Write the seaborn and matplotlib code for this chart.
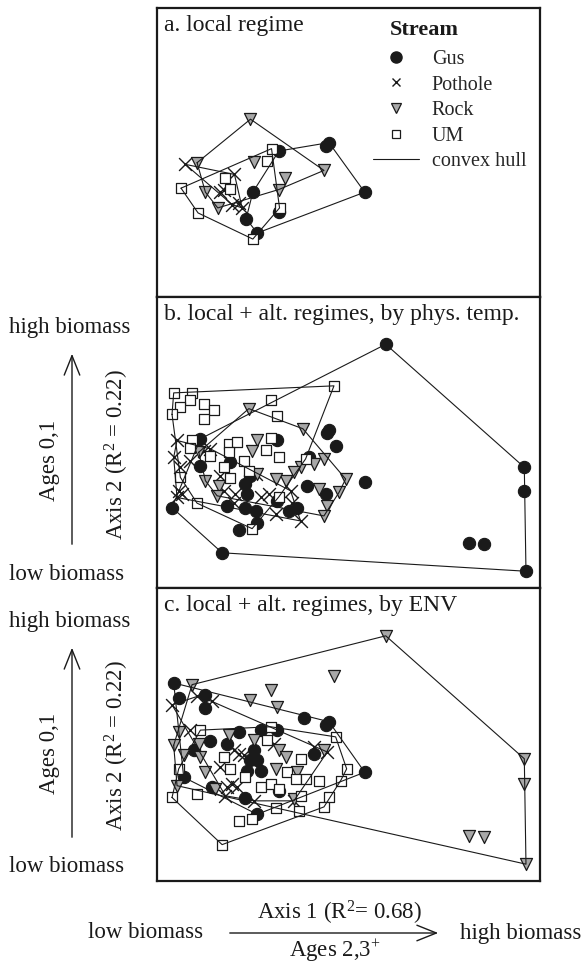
import numpy as np
import pandas as pd
import matplotlib
matplotlib.use('Agg')
import matplotlib.pyplot as plt
from matplotlib.lines import Line2D
from matplotlib.patches import FancyArrowPatch
import seaborn as sns

# NMDS scores (arbitrary ordination units)
# panel a: local regime
a_gus = [(3.65, 4.45), (5.05, 4.60), (5.15, 4.70), (6.22, 3.22), (2.87, 3.22),
         (2.67, 2.43), (3.65, 2.62), (3.00, 2.00)]
a_pothole = [(0.85, 4.05), (2.32, 3.75), (2.00, 3.30), (1.90, 3.22), (2.25, 2.85),
             (2.45, 2.90), (2.55, 2.75)]
a_rock = [(2.80, 5.40), (1.20, 4.10), (2.90, 4.13), (3.83, 3.65), (5.00, 3.87),
          (3.65, 3.30), (1.45, 3.22), (1.82, 2.75)]
a_um = [(3.43, 4.52), (3.28, 4.15), (0.72, 3.34), (2.05, 3.65), (2.20, 3.32),
        (1.23, 2.60), (3.67, 2.75), (2.87, 1.82)]

# panel b: local + alt. regimes, by phys. temp.
b_gus = [(6.85, 7.47), (11.00, 3.80), (11.00, 3.08), (11.05, 0.70), (9.35, 1.55),
         (9.80, 1.52), (1.95, 1.25), (0.45, 2.60), (1.30, 4.65), (3.60, 4.62),
         (5.10, 4.82), (5.15, 4.90), (5.35, 4.45), (6.22, 3.35), (4.55, 4.10),
         (5.05, 3.00), (4.50, 3.25), (4.20, 2.60), (3.95, 2.50), (2.95, 2.50),
         (3.00, 2.15), (2.45, 1.92), (2.10, 2.65), (2.65, 2.60), (2.70, 3.00),
         (2.65, 3.30), (2.80, 3.55), (1.30, 3.85), (2.20, 3.95), (3.60, 2.80)]
b_pothole = [(0.60, 4.60), (0.50, 4.10), (0.70, 3.80), (1.00, 4.00), (1.40, 4.30),
             (1.60, 4.35), (0.65, 3.10), (0.60, 2.90), (0.75, 3.00), (1.90, 3.55),
             (2.00, 3.10), (2.35, 3.00), (2.30, 2.75), (3.10, 2.90), (3.55, 2.40),
             (4.30, 2.20), (3.35, 3.00), (4.00, 3.10), (4.05, 2.75), (2.95, 3.60)]
b_rock = [(2.75, 5.55), (4.37, 4.95), (3.00, 4.60), (2.85, 4.30), (5.00, 4.05),
          (4.70, 3.90), (5.65, 3.45), (5.45, 3.05), (5.10, 2.65), (5.00, 2.35),
          (4.30, 3.80), (4.10, 3.65), (3.85, 3.40), (3.55, 3.45), (4.85, 3.15),
          (1.45, 3.40), (1.85, 3.25), (1.80, 2.95), (1.25, 4.25), (3.00, 3.60)]
b_um = [(0.50, 6.02), (1.05, 6.02), (1.00, 5.80), (0.70, 5.60), (1.40, 5.70),
        (1.70, 5.50), (0.45, 5.38), (1.40, 5.25), (5.30, 6.23), (3.40, 5.80),
        (3.60, 5.33), (1.05, 4.62), (1.00, 4.38), (2.15, 4.50), (2.40, 4.55),
        (2.15, 4.25), (3.40, 4.68), (3.25, 4.32), (3.65, 4.10), (1.60, 4.13),
        (2.00, 3.80), (2.62, 4.00), (2.75, 3.68), (2.20, 3.47), (0.70, 3.50),
        (1.20, 2.73), (2.85, 1.97), (3.65, 2.92), (4.45, 4.05)]

# panel c: local + alt. regimes, by ENV
c_gus = [(0.50, 6.10), (0.65, 5.65), (1.45, 5.75), (1.45, 5.35), (4.40, 5.05),
         (5.05, 4.85), (5.15, 4.95), (6.22, 3.45), (4.70, 4.00), (3.60, 4.70),
         (3.10, 4.70), (2.45, 4.65), (1.60, 4.38), (2.10, 4.30), (1.10, 4.10),
         (2.80, 3.80), (3.00, 3.80), (2.70, 3.50), (3.10, 3.50), (2.90, 4.10),
         (0.80, 3.30), (1.65, 3.00), (2.65, 2.68), (3.00, 2.20), (3.65, 2.90)]
c_pothole = [(0.45, 5.45), (1.65, 5.55), (1.20, 5.70), (1.00, 4.70), (2.30, 4.10),
             (2.45, 4.00), (2.60, 3.95), (1.90, 3.60), (2.10, 3.00), (2.25, 3.10),
             (2.40, 3.00), (2.05, 2.75), (2.90, 2.60), (3.50, 4.30), (5.10, 4.05),
             (4.70, 4.20), (4.10, 2.60)]
c_rock = [(6.85, 7.50), (11.00, 3.85), (11.00, 3.10), (11.05, 0.72), (9.35, 1.55),
          (9.80, 1.52), (5.30, 6.30), (3.40, 5.88), (2.80, 5.60), (3.60, 5.38),
          (1.05, 6.05), (5.00, 4.12), (0.65, 4.65), (2.15, 4.55), (2.90, 4.40),
          (3.65, 4.12), (3.85, 3.90), (0.50, 4.25), (0.80, 3.95), (1.30, 3.90),
          (1.25, 4.30), (1.45, 3.45), (3.55, 3.55), (4.20, 3.45), (0.60, 3.05),
          (1.75, 2.95), (4.10, 2.65)]
c_um = [(1.30, 4.70), (3.40, 4.80), (5.35, 4.50), (3.30, 4.40), (2.00, 3.90),
        (2.20, 3.55), (2.65, 3.30), (4.30, 3.85), (3.90, 3.45), (4.15, 3.25),
        (4.45, 3.25), (4.85, 3.20), (5.50, 3.20), (5.68, 3.55), (3.10, 3.00),
        (3.40, 3.10), (3.65, 2.95), (4.30, 2.75), (5.15, 2.70), (5.00, 2.42),
        (0.45, 2.70), (1.20, 2.80), (3.55, 2.40), (4.25, 2.30), (2.45, 2.00),
        (2.85, 2.05), (1.95, 1.30), (0.65, 3.55)]

panel_titles = ['a. local regime',
                'b. local + alt. regimes, by phys. temp.',
                'c. local + alt. regimes, by ENV']
streams = ['Gus', 'Pothole', 'Rock', 'UM']

panels = [
    {'Gus': a_gus, 'Pothole': a_pothole, 'Rock': a_rock, 'UM': a_um},
    {'Gus': b_gus, 'Pothole': b_pothole, 'Rock': b_rock, 'UM': b_um},
    {'Gus': c_gus, 'Pothole': c_pothole, 'Rock': c_rock, 'UM': c_um},
]

rows = []
for i, p in enumerate(panels):
    for s in streams:
        for x, y in p[s]:
            rows.append({'panel': i, 'stream': s, 'x': x, 'y': y})
df = pd.DataFrame(rows)

# marker styles per stream
styles = {
    'Gus': dict(marker='o', s=78, color='#1a1a1a', edgecolor='#1a1a1a', linewidth=0.8),
    'Pothole': dict(marker='x', s=85, color='#1a1a1a', linewidth=1.0),
    'Rock': dict(marker='v', s=75, color='#a8a8a8', edgecolor='#1a1a1a', linewidth=0.9),
    'UM': dict(marker='s', s=48, color='white', edgecolor='#1a1a1a', linewidth=0.9),
}


def convex_hull(pts):
    pts = sorted(set(map(tuple, pts)))
    if len(pts) < 3:
        return np.array(pts)

    def cross(o, a, b):
        return (a[0] - o[0]) * (b[1] - o[1]) - (a[1] - o[1]) * (b[0] - o[0])

    lower = []
    for p in pts:
        while len(lower) >= 2 and cross(lower[-2], lower[-1], p) <= 0:
            lower.pop()
        lower.append(p)
    upper = []
    for p in reversed(pts):
        while len(upper) >= 2 and cross(upper[-2], upper[-1], p) <= 0:
            upper.pop()
        upper.append(p)
    h = lower[:-1] + upper[:-1]
    h.append(h[0])
    return np.array(h)


sns.set_style('white')
plt.rcParams['font.family'] = ['Liberation Serif', 'DejaVu Serif']
plt.rcParams['mathtext.fontset'] = 'custom'
plt.rcParams['mathtext.rm'] = 'Liberation Serif'
plt.rcParams['mathtext.it'] = 'Liberation Serif:italic'

W, H = 587, 966
fig = plt.figure(figsize=(W / 100, H / 100), dpi=100)

# panel boxes in pixels: (top, bottom)
boxes = [(8, 297), (297, 588), (588, 881)]
ylims = [(0.09, 8.72), (0.20, 8.88), (0.22, 8.92)]
left_px, right_px = 157, 540

axes = []
for i, (top, bot) in enumerate(boxes):
    ax = fig.add_axes([left_px / W, 1 - bot / H, (right_px - left_px) / W, (bot - top) / H])
    sub = df[df.panel == i]
    for s in streams:
        d = sub[sub.stream == s]
        sns.scatterplot(data=d, x='x', y='y', ax=ax, legend=False, zorder=3, **styles[s])
        hull = convex_hull(d[['x', 'y']].values)
        ax.plot(hull[:, 0], hull[:, 1], color='#1a1a1a', lw=0.8, zorder=4)
    ax.set_xlim(0.0, 11.47)
    ax.set_ylim(*ylims[i])
    ax.set_xticks([])
    ax.set_yticks([])
    ax.set_xlabel('')
    ax.set_ylabel('')
    for sp in ax.spines.values():
        sp.set_color('#1a1a1a')
        sp.set_linewidth(1.6)
    ax.text(0.018, 0.975, panel_titles[i], transform=ax.transAxes, ha='left', va='top',
            fontsize=17, color='#1a1a1a')
    axes.append(ax)

handles = [
    Line2D([], [], linestyle='none', marker='o', markersize=8, markerfacecolor='#1a1a1a',
           markeredgecolor='#1a1a1a'),
    Line2D([], [], linestyle='none', marker='x', markersize=6, color='#1a1a1a',
           markeredgewidth=1.0),
    Line2D([], [], linestyle='none', marker='v', markersize=6.5, markerfacecolor='#a8a8a8',
           markeredgecolor='#1a1a1a', markeredgewidth=0.9),
    Line2D([], [], linestyle='none', marker='s', markersize=6, markerfacecolor='white',
           markeredgecolor='#1a1a1a', markeredgewidth=0.9),
    Line2D([], [], color='#1a1a1a', lw=0.8),
]
labels = streams + ['convex hull']
leg = axes[0].legend(handles, labels, loc='upper left',
                     bbox_to_anchor=(0.565, 0.855), frameon=False, fontsize=14.5,
                     handlelength=2.25, handletextpad=0.65,
                     labelspacing=0.32, borderpad=0, borderaxespad=0)
# legend heading
axes[0].text((390 - left_px) / (right_px - left_px), 1 - (30 - 8) / 289, 'Stream',
             transform=axes[0].transAxes, ha='left', va='center', fontsize=16,
             fontweight='bold', color='#1a1a1a')


def fx(x):
    return x / W


def fy(y):
    return 1 - y / H


txt = dict(fontsize=16.5, color='#1a1a1a')
arrow_kw = dict(transform=fig.transFigure, arrowstyle='->,head_length=0.7,head_width=0.28',
                mutation_scale=20, lw=1.0, color='#1a1a1a')

# vertical axis annotations for panels b and c
for hi, lo, tail, tip, ages_y, axis_y in [(328, 575, 547, 351, 460, 455),
                                          (622, 866, 840, 645, 753, 746)]:
    fig.text(fx(9), fy(hi), 'high biomass', ha='left', va='center', **txt)
    fig.text(fx(9), fy(lo), 'low biomass', ha='left', va='center', **txt)
    fig.add_artist(FancyArrowPatch((fx(72), fy(tail)), (fx(72), fy(tip)), **arrow_kw))
    fig.text(fx(50), fy(ages_y), 'Ages 0,1', rotation=90, ha='center', va='center', **txt)
    fig.text(fx(117), fy(axis_y), 'Axis 2 (R$^{2}$ = 0.22)', rotation=90,
             ha='center', va='center', **txt)

# horizontal axis annotation
fig.text(fx(203), fy(933), 'low biomass', ha='right', va='center', **txt)
fig.text(fx(460), fy(933), 'high biomass', ha='left', va='center', **txt)
fig.add_artist(FancyArrowPatch((fx(227), fy(933)), (fx(441), fy(933)), **arrow_kw))
fig.text(fx(339), fy(913), 'Axis 1 (R$^{2}$= 0.68)', ha='center', va='center', **txt)
fig.text(fx(335), fy(951), 'Ages 2,3$^{+}$', ha='center', va='center', **txt)

fig.savefig('out.png', dpi=100, facecolor='white')
